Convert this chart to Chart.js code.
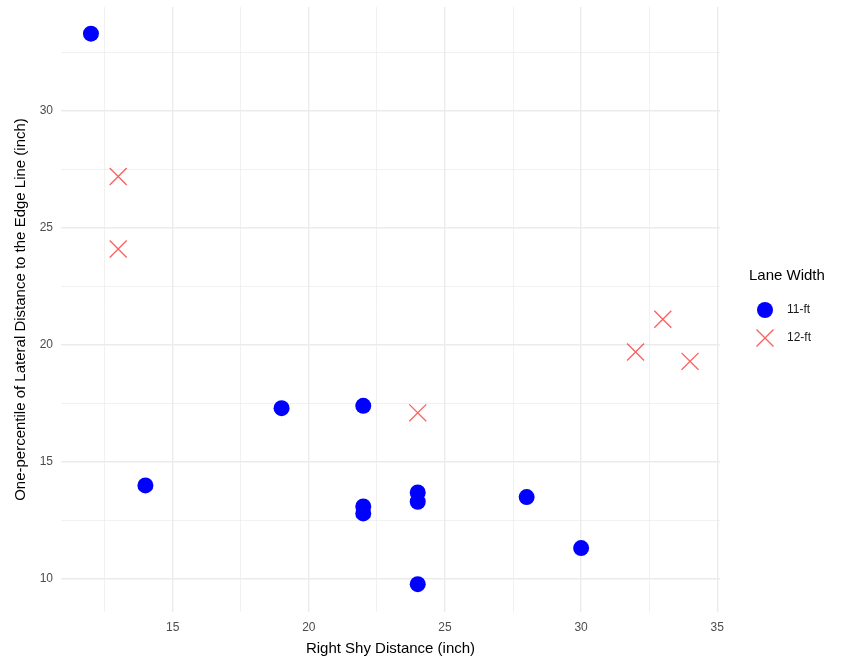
<!DOCTYPE html>
<html>
<head>
<meta charset="utf-8">
<script src="https://cdn.jsdelivr.net/npm/chart.js@4"></script>
<style>
  html, body { margin: 0; padding: 0; background: #ffffff; }
  #wrap { width: 847px; height: 666px; position: relative; }
</style>
</head>
<body>
<div id="wrap"><canvas id="c" width="847" height="666"></canvas></div>
<script>
// Right shy distance (inch) vs. one-percentile lateral distance to the edge line (inch)
const shy11 = [12, 14, 19, 22, 22, 22, 24, 24, 24, 28, 30];
const lat11 = [33.3, 14.0, 17.3, 17.4, 13.1, 12.8, 13.7, 13.3, 9.78, 13.5, 11.32];
const shy12 = [13, 13, 24, 32, 33, 34];
const lat12 = [27.2, 24.1, 17.1, 19.7, 21.1, 19.3];
const laneLabels = ['11-ft', '12-ft'];
const legendTitle = 'Lane Width';
const xTitle = 'Right Shy Distance (inch)';
const yTitle = 'One-percentile of Lateral Distance to the Edge Line (inch)';

const FONT = "'Liberation Sans', Arial, Helvetica, sans-serif";
const BLUE = '#0000FF';
const RED = 'rgba(255, 40, 40, 0.75)';

const pts = (xs, ys) => xs.map((x, i) => ({ x: x, y: ys[i] }));

const isMajor = v => Math.abs(v / 5 - Math.round(v / 5)) < 1e-6;

// Legend drawn beside the plot panel
const sideLegend = {
  id: 'sideLegend',
  afterDraw(chart) {
    const ctx = chart.ctx;
    ctx.save();
    ctx.fillStyle = '#000000';
    ctx.font = '15px ' + FONT;
    ctx.textAlign = 'left';
    ctx.textBaseline = 'middle';
    ctx.fillText(legendTitle, 749, 276);
    const rows = [310, 338];
    chart.data.datasets.forEach((ds, i) => {
      const y = rows[i];
      ctx.fillStyle = ds.backgroundColor;
      ctx.strokeStyle = ds.borderColor;
      ctx.lineWidth = ds.borderWidth;
      if (ds.pointStyle === 'circle') {
        ctx.beginPath();
        ctx.arc(765, y, ds.pointRadius, 0, Math.PI * 2);
        ctx.fill();
      } else {
        Chart.helpers.drawPoint(ctx, {
          pointStyle: ds.pointStyle,
          radius: ds.pointRadius,
          borderWidth: ds.borderWidth
        }, 765, y);
      }
      ctx.fillStyle = '#1a1a1a';
      ctx.font = '12px ' + FONT;
      ctx.fillText(laneLabels[i], 787, y);
    });
    ctx.restore();
  }
};

new Chart(document.getElementById('c'), {
  type: 'scatter',
  data: {
    datasets: [
      {
        label: laneLabels[0],
        data: pts(shy11, lat11),
        pointStyle: 'circle',
        pointRadius: 8,
        pointHoverRadius: 8,
        backgroundColor: BLUE,
        borderColor: BLUE,
        borderWidth: 0
      },
      {
        label: laneLabels[1],
        data: pts(shy12, lat12),
        pointStyle: 'crossRot',
        pointRadius: 12,
        pointHoverRadius: 12,
        backgroundColor: RED,
        borderColor: RED,
        borderWidth: 1.3
      }
    ]
  },
  options: {
    responsive: false,
    animation: false,
    events: [],
    layout: { autoPadding: false, padding: { top: 7, right: 127, left: 0, bottom: 0 } },
    plugins: {
      legend: { display: false },
      tooltip: { enabled: false }
    },
    scales: {
      x: {
        type: 'linear',
        min: 10.9,
        max: 35.1,
        afterFit(scale) { scale.height = 54; },
        border: { display: false },
        grid: {
          drawTicks: false,
          color: '#EBEBEB',
          lineWidth: ctx => (ctx.tick && isMajor(ctx.tick.value)) ? 1.4 : 0.7
        },
        ticks: {
          stepSize: 2.5,
          includeBounds: false,
          autoSkip: false,
          maxRotation: 0,
          padding: 8,
          color: '#4D4D4D',
          font: { family: FONT, size: 12 },
          callback: v => isMajor(v) ? String(v) : ''
        },
        title: {
          display: true,
          text: xTitle,
          color: '#000000',
          font: { family: FONT, size: 15 },
          padding: { top: 2, bottom: 8 }
        }
      },
      y: {
        type: 'linear',
        min: 8.59,
        max: 34.44,
        afterFit(scale) {
          scale.width = 61;
          scale.paddingTop = 0;
          scale.paddingBottom = 0;
        },
        border: { display: false },
        grid: {
          drawTicks: false,
          color: '#EBEBEB',
          lineWidth: ctx => (ctx.tick && isMajor(ctx.tick.value)) ? 1.4 : 0.7
        },
        ticks: {
          stepSize: 2.5,
          includeBounds: false,
          autoSkip: false,
          padding: 8,
          color: '#4D4D4D',
          font: { family: FONT, size: 12 },
          callback: v => isMajor(v) ? String(v) : ''
        },
        title: {
          display: true,
          text: yTitle,
          color: '#000000',
          font: { family: FONT, size: 15 },
          padding: { top: 12, bottom: 4 }
        }
      }
    }
  },
  plugins: [sideLegend]
});
</script>
</body>
</html>
